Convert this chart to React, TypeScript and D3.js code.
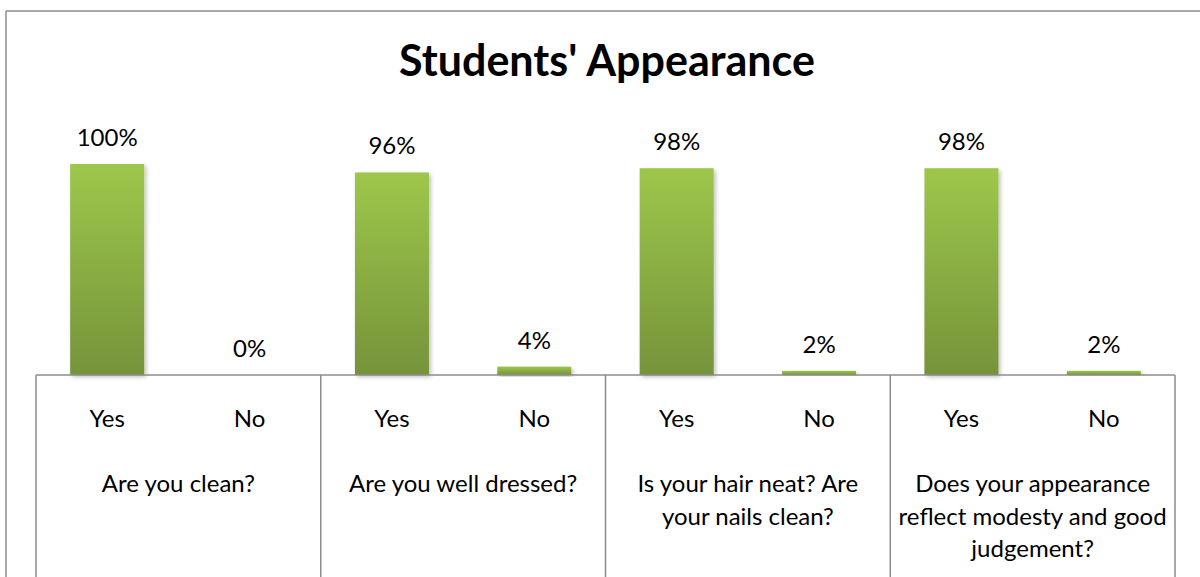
import React from "react";
import * as d3 from "d3";

const categoryLines: string[][] = [
  ["Are you clean?"],
  ["Are you well dressed?"],
  ["Is your hair neat? Are", "your nails clean?"],
  ["Does your appearance", "reflect modesty and good", "judgement?"],
];
const answers = ["Yes", "No"];
const yesValues = [100, 96, 98, 98];
const noValues = [0, 4, 2, 2];
const titleText = "Students' Appearance";

const W = 1200;
const H = 577;
const FONT = "Lato, 'Open Sans', sans-serif";

export default function App() {
  const cats = categoryLines.map((_, i) => String(i));
  const x0 = d3.scaleBand<string>().domain(cats).range([36, 1175]).padding(0);
  const x1 = d3.scaleBand<string>().domain(answers).range([0, x0.bandwidth()]).padding(0);
  const y = d3.scaleLinear().domain([0, 100]).range([375, 164]);
  const barW = x1.bandwidth() * 0.52;
  const base = y(0);

  const bars: { key: string; cx: number; v: number }[] = [];
  cats.forEach((c, i) => {
    [yesValues[i], noValues[i]].forEach((v, j) => {
      bars.push({ key: c + "-" + j, cx: (x0(c) || 0) + (x1(answers[j]) || 0) + x1.bandwidth() / 2, v });
    });
  });

  const dividers = cats.map((c) => x0(c) || 0).concat([1175]);

  return (
    <svg
      width={W}
      height={H}
      style={{ position: "absolute", left: 0, top: 0, background: "#fff" }}
      fontFamily={FONT}
    >
      <defs>
        <linearGradient id="barGrad" x1="0" y1="0" x2="0" y2="1">
          <stop offset="0%" stopColor="#9DC74B" />
          <stop offset="100%" stopColor="#76933A" />
        </linearGradient>
        <filter id="shadow" x="-20%" y="-5%" width="150%" height="120%">
          <feGaussianBlur in="SourceAlpha" stdDeviation="2" />
          <feOffset dx="2" dy="2" result="ob" />
          <feComponentTransfer>
            <feFuncA type="linear" slope="0.25" />
          </feComponentTransfer>
          <feMerge>
            <feMergeNode />
            <feMergeNode in="SourceGraphic" />
          </feMerge>
        </filter>
      </defs>
      <rect x={0} y={0} width={W} height={H} fill="#fff" />
      {/* chart border */}
      <line x1={6} y1={11} x2={W} y2={11} stroke="#8c8c8c" strokeWidth={1.5} />
      <line x1={6} y1={11} x2={6} y2={H} stroke="#8c8c8c" strokeWidth={1.5} />

      <text x={607} y={76} textAnchor="middle" fontSize={43} fontWeight="bold" fill="#000">
        {titleText}
      </text>

      {bars.map((b) => (
        <g key={b.key}>
          <rect
            x={b.cx - barW / 2}
            y={y(b.v)}
            width={barW}
            height={Math.max(0, base - y(b.v))}
            fill="url(#barGrad)"
            filter="url(#shadow)"
          />
          <text x={b.cx} y={y(b.v) - 18} textAnchor="middle" fontSize={24} fill="#000">
            {b.v + "%"}
          </text>
        </g>
      ))}

      {/* axis */}
      <line x1={36} y1={base} x2={1175} y2={base} stroke="#8c8c8c" strokeWidth={1.5} />
      {dividers.map((d, i) => (
        <line key={"d" + i} x1={d} y1={base} x2={d} y2={H} stroke="#8c8c8c" strokeWidth={1.5} />
      ))}

      {bars.map((b, k) => (
        <text key={"a" + k} x={b.cx} y={427} textAnchor="middle" fontSize={24} fill="#000">
          {answers[k % 2]}
        </text>
      ))}

      {cats.map((c, i) => (
        <text key={"c" + i} textAnchor="middle" fontSize={24} fill="#000">
          {categoryLines[i].map((ln, j) => (
            <tspan key={j} x={(x0(c) || 0) + x0.bandwidth() / 2} y={492 + j * 32.5}>
              {ln}
            </tspan>
          ))}
        </text>
      ))}
    </svg>
  );
}
